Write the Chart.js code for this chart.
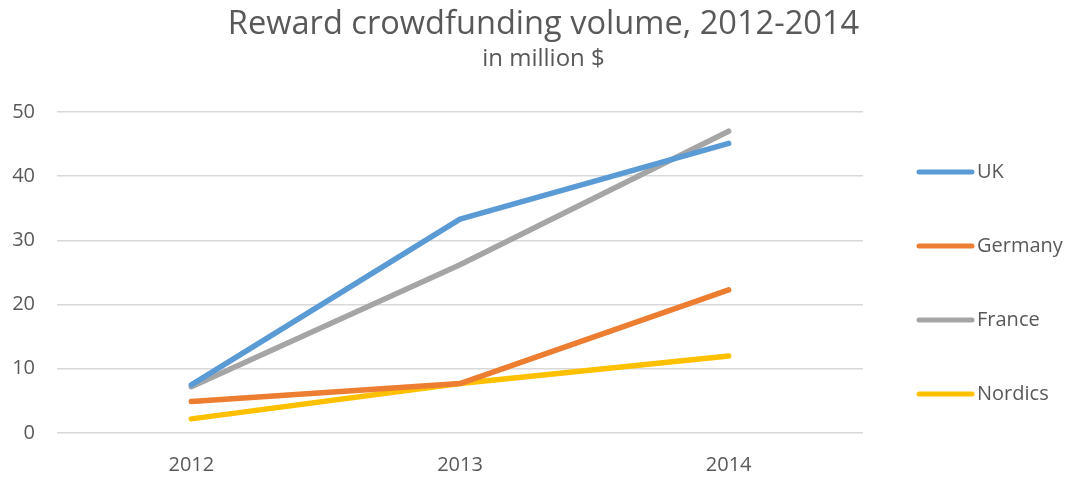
<!DOCTYPE html>
<html>
<head>
<meta charset="utf-8">
<script src="https://cdn.jsdelivr.net/npm/chart.js@4.4.1/dist/chart.umd.min.js"></script>
<style>
  html, body { margin: 0; padding: 0; background: #fff; }
  #wrap { width: 1069px; height: 477px; }
</style>
</head>
<body>
<div id="wrap"><canvas id="crowdChart" width="1069" height="477"></canvas></div>
<script>
const years = ['2012', '2013', '2014'];
const uk      = [7.5, 33.3, 45.1];
const germany = [4.9, 7.7, 22.3];
const france  = [7.2, 26.2, 47.0];
const nordics = [2.2, 7.7, 12.0];
const yTicks  = [0, 10, 20, 30, 40, 50];

const FONT = "'Open Sans', 'Noto Sans', sans-serif";
const TEXT = '#595959';

const line = (label, data, color) => ({
  label, data,
  borderColor: color, backgroundColor: color,
  borderWidth: 5.5, borderCapStyle: 'round', borderJoinStyle: 'round',
  pointRadius: 0, pointHoverRadius: 0, tension: 0,
});

// Excel-style legend on the right: a layout box so it takes its own column
const sideLegend = {
  id: 'sideLegend',
  beforeInit(chart) {
    const box = {
      position: 'right', weight: 1000, fullSize: false, options: {},
      isHorizontal: () => false,
      update(maxWidth, maxHeight) { box.width = 224; box.height = maxHeight; },
      draw() {
        const ctx = chart.ctx;
        ctx.save();
        ctx.font = `20px ${FONT}`;
        ctx.textBaseline = 'middle';
        ctx.lineCap = 'round';
        ctx.lineWidth = 5;
        chart.data.datasets.forEach((ds, i) => {
          const y = 172 + i * 74;
          ctx.strokeStyle = ds.borderColor;
          ctx.beginPath();
          ctx.moveTo(box.left + 56, y);
          ctx.lineTo(box.left + 109, y);
          ctx.stroke();
          ctx.fillStyle = TEXT;
          ctx.fillText(ds.label, box.left + 114, y);
        });
        ctx.restore();
      },
    };
    Chart.layouts.addBox(chart, box);
  },
};

new Chart(document.getElementById('crowdChart'), {
  type: 'line',
  data: {
    labels: years,
    datasets: [
      line('UK', uk, '#5B9BD5'),
      line('Germany', germany, '#ED7D31'),
      line('France', france, '#A5A5A5'),
      line('Nordics', nordics, '#FFC000'),
    ],
  },
  plugins: [sideLegend],
  options: {
    responsive: false,
    animation: false,
    // negative right padding nudges the centred title right, like Excel
    layout: { padding: { left: 0, right: -18, top: 0, bottom: 0 } },
    plugins: {
      title: {
        display: true, text: 'Reward crowdfunding volume, 2012-2014',
        color: TEXT, font: { family: FONT, size: 32.6, weight: 'normal' },
        padding: { top: 5, bottom: 1 },
      },
      subtitle: {
        display: true, text: 'in million $',
        color: TEXT, font: { family: FONT, size: 24, weight: 'normal' },
        padding: { top: 0, bottom: 38 },
      },
      legend: { display: false },
      tooltip: { enabled: false },
    },
    scales: {
      x: {
        offset: true,
        grid: { display: false },
        border: { display: false },
        ticks: { color: TEXT, font: { family: FONT, size: 20 }, padding: 12 },
        afterFit: axis => { axis.height = 44; },
      },
      y: {
        min: 0, max: 50,
        afterBuildTicks: axis => { axis.ticks = yTicks.map(v => ({ value: v })); },
        grid: { color: '#D9D9D9', lineWidth: 1.5, drawTicks: false },
        border: { display: false },
        ticks: { color: TEXT, font: { family: FONT, size: 20 }, padding: 22 },
        afterFit: axis => { axis.width = 57; },
      },
    },
  },
});
</script>
</body>
</html>
